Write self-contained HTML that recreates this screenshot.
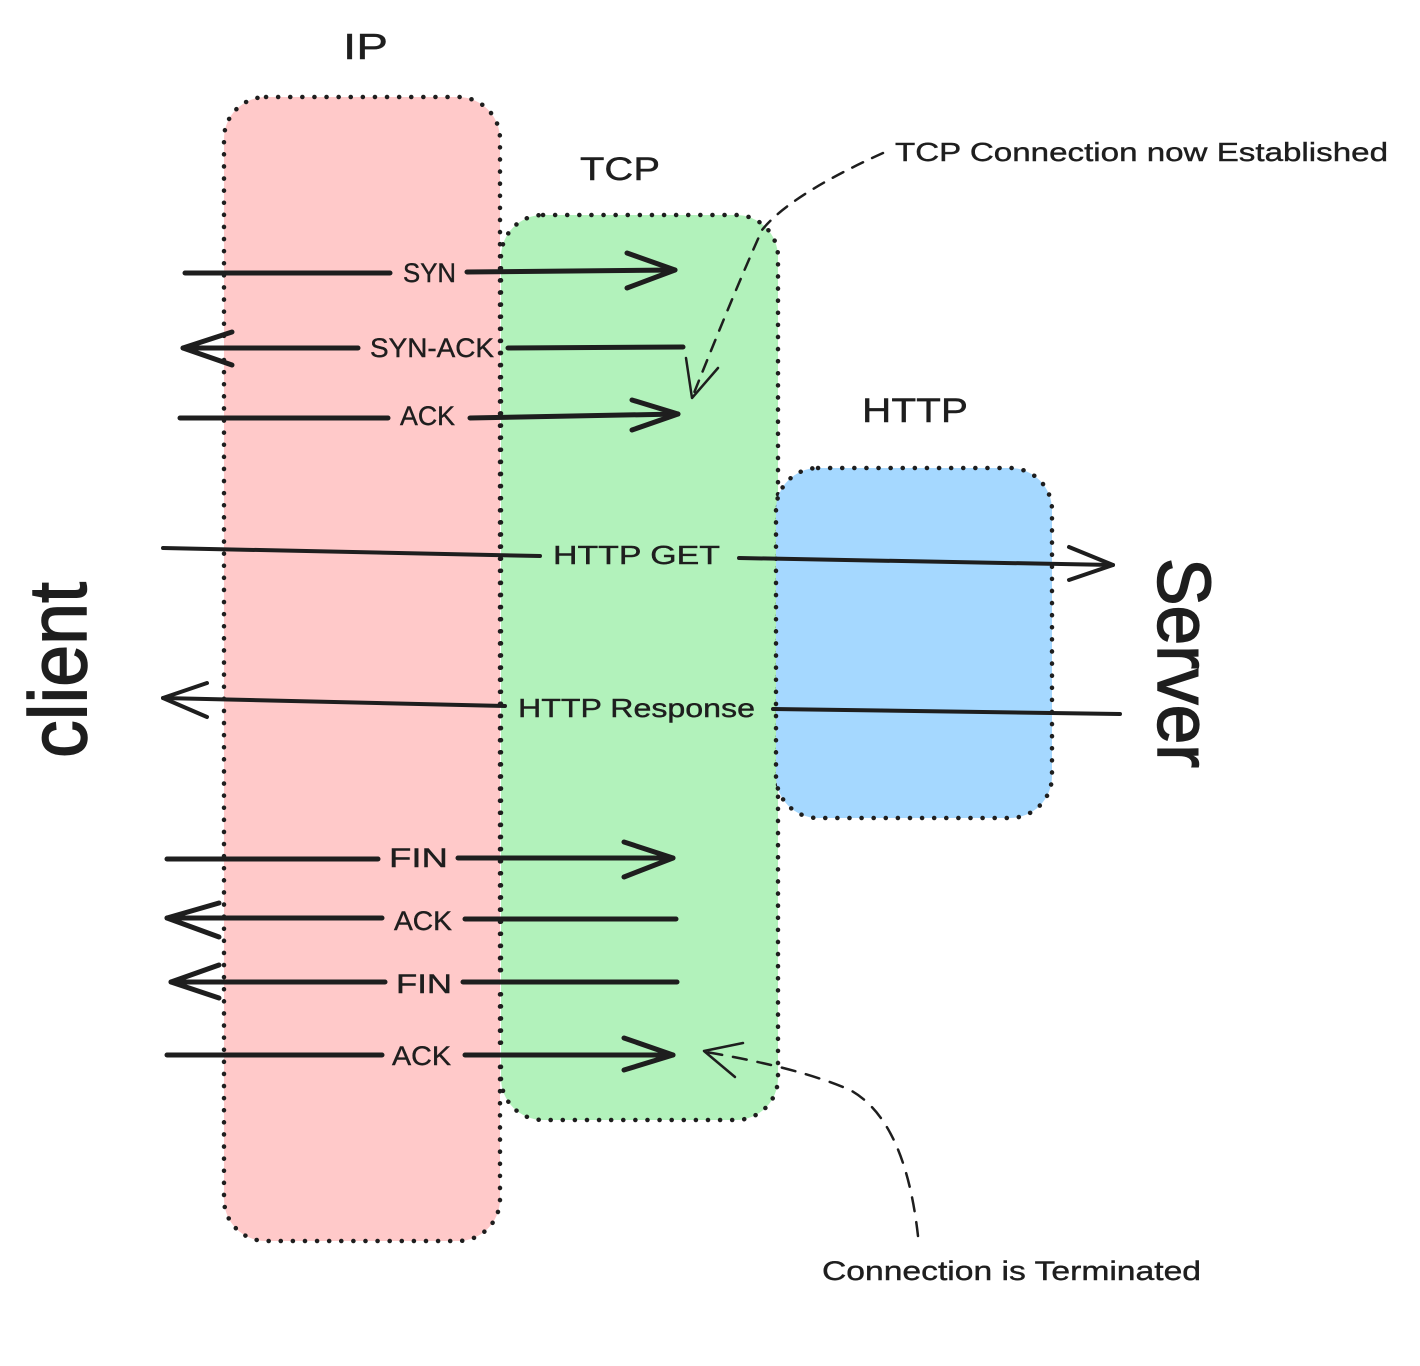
<!DOCTYPE html>
<html>
<head>
<meta charset="utf-8">
<style>
html,body{margin:0;padding:0;background:#fff;}
svg{display:block;}
text{font-family:"Liberation Sans",sans-serif;fill:#1e1e1e;stroke:#1e1e1e;stroke-width:0.4px;}
</style>
</head>
<body>
<svg width="1420" height="1366" viewBox="0 0 1420 1366" xmlns="http://www.w3.org/2000/svg">
<rect x="0" y="0" width="1420" height="1366" fill="#ffffff"/>

<!-- Boxes -->
<g stroke="#1e1e1e" stroke-width="4.5" stroke-dasharray="0.1 12" stroke-linecap="round">
  <rect x="224" y="97" width="276" height="1144" rx="42" fill="#ffc9c9"/>
  <rect x="501" y="215" width="277" height="905" rx="42" fill="#b2f2bb"/>
  <rect x="776" y="468" width="276" height="350" rx="42" fill="#a5d8ff"/>
</g>

<!-- Box titles -->
<text x="343" y="59" font-size="36" textLength="45" lengthAdjust="spacingAndGlyphs">IP</text>
<text x="580" y="180" font-size="32" textLength="80" lengthAdjust="spacingAndGlyphs">TCP</text>
<text x="862" y="422" font-size="34" textLength="106" lengthAdjust="spacingAndGlyphs">HTTP</text>

<!-- Client / Server -->
<text transform="translate(86,758) rotate(-90)" font-size="82" textLength="176" lengthAdjust="spacingAndGlyphs" style="stroke-width:1.5px">client</text>
<text transform="translate(1158,558) rotate(90)" font-size="75" textLength="210" lengthAdjust="spacingAndGlyphs" style="stroke-width:1.5px">Server</text>

<!-- Handshake arrows -->
<g stroke="#1e1e1e" stroke-width="5" stroke-linecap="round" stroke-linejoin="round" fill="none">
  <line x1="185" y1="273" x2="390" y2="273"/>
  <line x1="467" y1="272" x2="675" y2="270"/>
  <polyline points="627,253 675,270 627,288"/>
  <line x1="183" y1="348" x2="358" y2="348"/>
  <polyline points="232,332 183,348 232,365"/>
  <line x1="508" y1="348" x2="683" y2="347"/>
  <line x1="180" y1="418" x2="388" y2="418"/>
  <line x1="470" y1="418" x2="678" y2="414"/>
  <polyline points="632,400 678,414 632,430"/>
  <line x1="167" y1="859" x2="378" y2="859"/>
  <line x1="458" y1="858" x2="673" y2="858"/>
  <polyline points="624,842 673,858 624,877"/>
  <line x1="167" y1="918" x2="382" y2="918"/>
  <polyline points="219,903 167,918 219,937"/>
  <line x1="465" y1="919" x2="676" y2="919"/>
  <line x1="171" y1="982" x2="385" y2="982"/>
  <polyline points="219,965 171,982 219,998"/>
  <line x1="463" y1="982" x2="677" y2="982"/>
  <line x1="167" y1="1055" x2="382" y2="1055"/>
  <line x1="465" y1="1055" x2="673" y2="1055"/>
  <polyline points="624,1038 673,1055 624,1070"/>
</g>

<!-- HTTP arrows -->
<g stroke="#1e1e1e" stroke-width="4" stroke-linecap="round" stroke-linejoin="round" fill="none">
  <line x1="163" y1="548" x2="540" y2="556"/>
  <line x1="739" y1="558" x2="1113" y2="565"/>
  <polyline points="1069,547 1113,565 1069,580"/>
  <line x1="163" y1="698" x2="505" y2="706"/>
  <polyline points="207,683 163,698 207,717"/>
  <line x1="773" y1="709" x2="1120" y2="714"/>
</g>

<!-- Arrow labels -->
<g font-size="27">
  <text x="403" y="282" textLength="53" lengthAdjust="spacingAndGlyphs">SYN</text>
  <text x="370" y="357" textLength="124" lengthAdjust="spacingAndGlyphs">SYN-ACK</text>
  <text x="400" y="425" textLength="55" lengthAdjust="spacingAndGlyphs">ACK</text>
  <text x="389" y="867" textLength="59" lengthAdjust="spacingAndGlyphs">FIN</text>
  <text x="394" y="930" textLength="58" lengthAdjust="spacingAndGlyphs">ACK</text>
  <text x="396" y="993" textLength="56" lengthAdjust="spacingAndGlyphs">FIN</text>
  <text x="392" y="1065" textLength="59" lengthAdjust="spacingAndGlyphs">ACK</text>
</g>
<g font-size="26">
  <text x="553" y="564" textLength="167" lengthAdjust="spacingAndGlyphs">HTTP GET</text>
  <text x="518" y="717" textLength="237" lengthAdjust="spacingAndGlyphs">HTTP Response</text>
</g>

<!-- Annotations -->
<text x="895" y="161" font-size="26" textLength="493" lengthAdjust="spacingAndGlyphs">TCP Connection now Established</text>
<text x="822" y="1280" font-size="27" textLength="379" lengthAdjust="spacingAndGlyphs">Connection is Terminated</text>

<g stroke="#1e1e1e" stroke-width="2.5" stroke-linecap="round" stroke-linejoin="round" fill="none">
  <path d="M883,153 Q790,195 762,230 Q735,290 692,398" stroke-dasharray="12 10"/>
  <polyline points="686,358 692,398 718,368"/>
  <path d="M918,1236 Q905,1120 850,1090 Q800,1068 706,1052" stroke-dasharray="14 11"/>
  <polyline points="743,1043 704,1051 735,1077"/>
</g>
</svg>
</body>
</html>
